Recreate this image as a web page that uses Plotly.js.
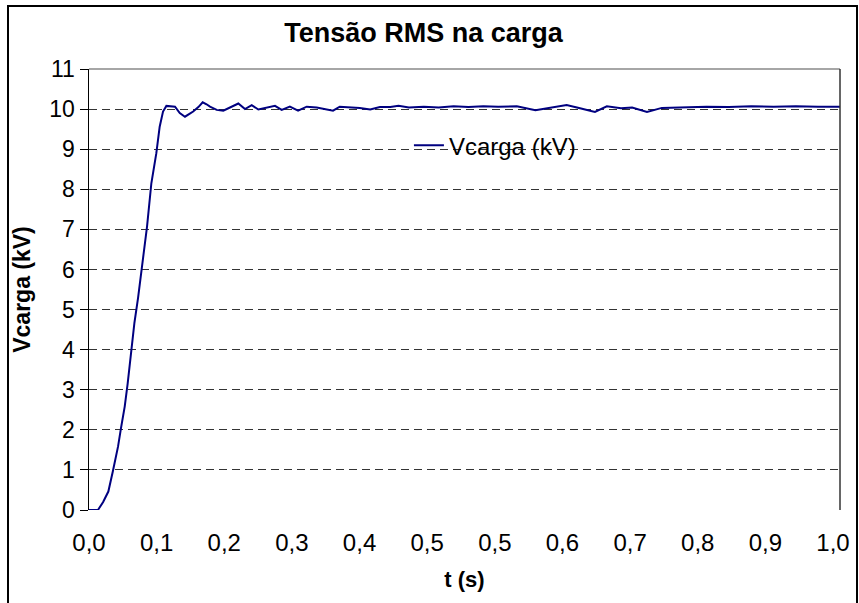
<!DOCTYPE html>
<html>
<head>
<meta charset="utf-8">
<script src="https://cdn.plot.ly/plotly-3.0.1.min.js"></script>
<style>
html,body{margin:0;padding:0;background:#fff;}
#chart{width:859px;height:603px;}
</style>
</head>
<body>
<div id="chart"></div>
<script>
// Time (s)
var tempo = [0, 0.005, 0.012, 0.019, 0.026, 0.032, 0.039, 0.043, 0.048, 0.052, 0.057, 0.061, 0.066, 0.0726, 0.078, 0.0838, 0.0905, 0.095, 0.0995, 0.104, 0.110, 0.1156, 0.122, 0.129, 0.135, 0.140, 0.147, 0.1528, 0.158, 0.1626, 0.1716, 0.1805, 0.1895, 0.2007, 0.2097, 0.2187, 0.2276, 0.2388, 0.25, 0.259, 0.270, 0.281, 0.2926, 0.306, 0.315, 0.328, 0.337, 0.351, 0.364, 0.378, 0.391, 0.405, 0.416, 0.43, 0.45, 0.47, 0.49, 0.51, 0.53, 0.55, 0.575, 0.6, 0.62, 0.642, 0.66, 0.68, 0.696, 0.715, 0.73, 0.75, 0.77, 0.80, 0.83, 0.86, 0.89, 0.92, 0.95, 0.98, 1.0094];
// Vcarga (kV)
var vcarga = [0, 0, 0.0, 0.2, 0.46, 0.96, 1.58, 2.04, 2.58, 3.16, 3.99, 4.66, 5.3, 6.32, 7.07, 8.15, 8.9, 9.56, 9.94, 10.08, 10.07, 10.06, 9.9, 9.81, 9.88, 9.94, 10.05, 10.17, 10.12, 10.06, 9.98, 9.96, 10.04, 10.14, 10.0, 10.1, 9.99, 10.04, 10.08, 9.98, 10.06, 9.96, 10.06, 10.04, 10.01, 9.96, 10.06, 10.04, 10.03, 9.99, 10.05, 10.05, 10.08, 10.04, 10.06, 10.04, 10.07, 10.05, 10.07, 10.06, 10.07, 9.97, 10.04, 10.1, 10.02, 9.93, 10.07, 10.02, 10.04, 9.93, 10.03, 10.04, 10.06, 10.05, 10.07, 10.06, 10.07, 10.06, 10.06];
// X tick labels (Excel category labels)
var xTickText = ['0,0', '0,1', '0,2', '0,3', '0,4', '0,5', '0,5', '0,6', '0,7', '0,8', '0,9', '1,0'];
var xTickVals = xTickText.map(function(_, k){ return k / 11; });

var font = 'Liberation Sans, Arial, sans-serif';

var trace = {
  x: tempo, y: vcarga, type: 'scatter', mode: 'lines',
  name: 'Vcarga (kV)',
  line: {color: '#000080', width: 2}
};

var layout = {
  width: 859, height: 603,
  margin: {l: 89, r: 19, t: 69, b: 93},
  paper_bgcolor: '#fff', plot_bgcolor: '#fff',
  font: {family: font, color: '#000', size: 23},
  title: {text: '<b>Tensão RMS na carga</b>', x: 0.493, xref: 'container', xanchor: 'center',
          y: 1 - 33/603, yref: 'container', yanchor: 'middle',
          font: {family: font, size: 27, color: '#000'}},
  showlegend: true,
  legend: {x: 0.426, y: 0.826, xanchor: 'left', yanchor: 'middle', bgcolor: 'rgba(0,0,0,0)',
           font: {family: font, size: 24, color: '#000'}},
  xaxis: {
    range: [0, 1.0094], tickmode: 'array', tickvals: xTickVals, ticktext: xTickText,
    showgrid: false, zeroline: false, showline: false, ticks: '',
    ticklabelstandoff: 16,
    tickfont: {family: font, size: 24, color: '#000'},
    title: {text: '<b>t (s)</b>', font: {family: font, size: 22, color: '#000'}, standoff: 16}
  },
  yaxis: {
    range: [0, 11], dtick: 1, tick0: 0,
    showgrid: true, gridcolor: '#333', gridwidth: 1, griddash: '8px,5px',
    zeroline: false, showline: true, linecolor: '#000', linewidth: 1.5,
    ticks: 'outside', ticklen: 8, tickcolor: '#000', tickwidth: 1,
    tickfont: {family: font, size: 23, color: '#000'},
    title: {text: '<b>Vcarga (kV)</b>', font: {family: font, size: 23, color: '#000'}, standoff: 12}
  },
  shapes: [
    {type: 'line', xref: 'paper', yref: 'paper', x0: 0, x1: 1, y0: 1, y1: 1, layer: 'below',
     line: {color: '#888', width: 1.5}},
    {type: 'line', xref: 'paper', yref: 'paper', x0: 1, x1: 1, y0: 0, y1: 1, layer: 'above',
     line: {color: '#333', width: 1.5}},
    {type: 'rect', xref: 'paper', yref: 'paper', x0: -81/751, x1: 768/751, y0: -100/441, y1: 504/441,
     layer: 'above', line: {color: '#000', width: 2}, fillcolor: 'rgba(0,0,0,0)'}
  ]
};

Plotly.newPlot('chart', [trace], layout, {displayModeBar: false, staticPlot: true});
</script>
</body>
</html>
